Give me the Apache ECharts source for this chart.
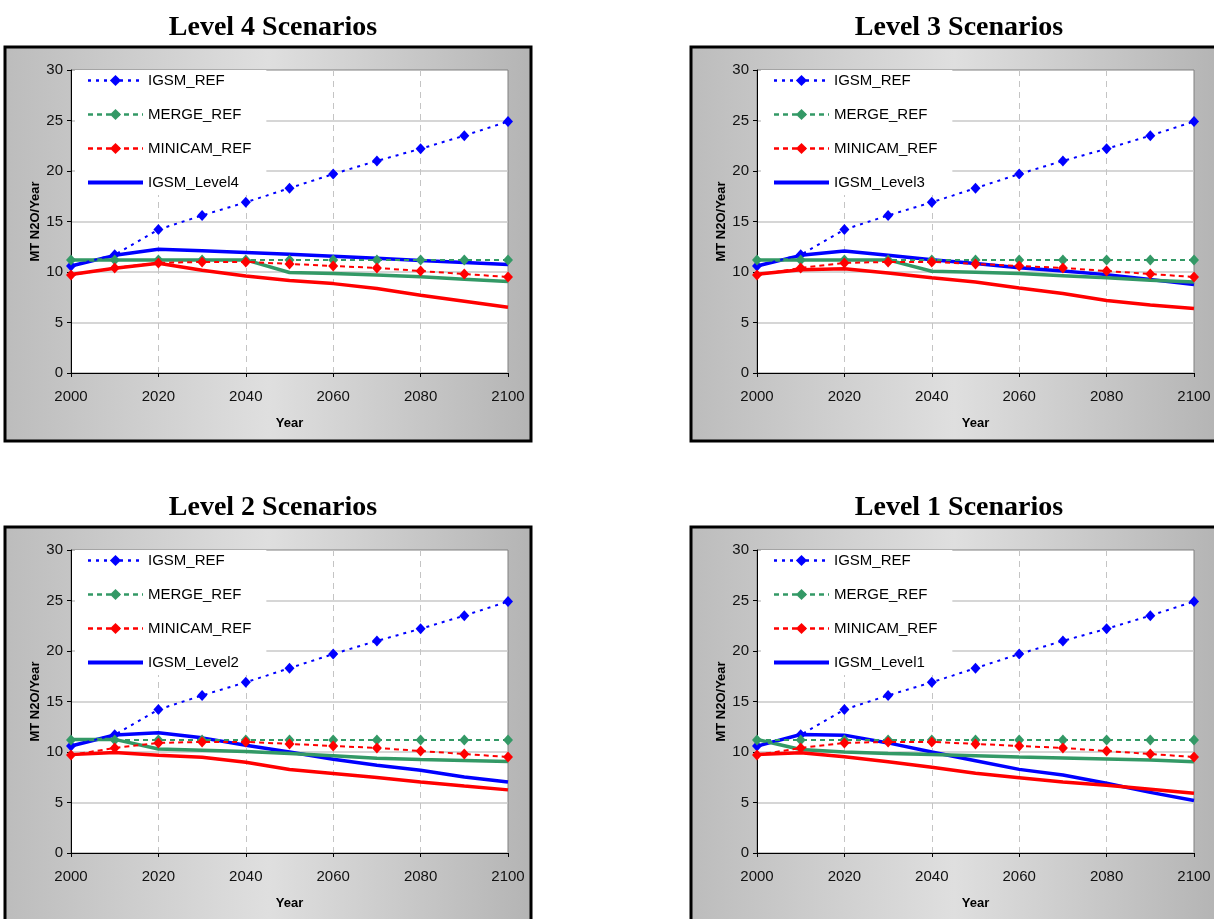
<!DOCTYPE html>
<html>
<head>
<meta charset="utf-8">
<script src="https://cdn.jsdelivr.net/npm/echarts@6/dist/echarts.min.js"></script>
<style>
html,body{margin:0;padding:0;background:#fff;}
#chart{width:1214px;height:919px;}
</style>
</head>
<body>
<div id="chart"></div>
<script>
// ---------- DATA ----------
const years = [2000, 2010, 2020, 2030, 2040, 2050, 2060, 2070, 2080, 2090, 2100];
const yTicks = [0, 5, 10, 15, 20, 25, 30];
const xTicks = [2000, 2020, 2040, 2060, 2080, 2100];

const igsmRef    = [10.6, 11.7, 14.2, 15.6, 16.9, 18.3, 19.7, 21.0, 22.2, 23.5, 24.9];
const mergeRef   = [11.2, 11.2, 11.2, 11.2, 11.2, 11.2, 11.2, 11.2, 11.2, 11.2, 11.2];
const minicamRef = [9.7, 10.4, 10.9, 11.0, 11.0, 10.8, 10.6, 10.4, 10.1, 9.8, 9.5];

const igsmL4    = [10.6, 11.65, 12.25, 12.1, 11.93, 11.75, 11.55, 11.35, 11.15, 10.95, 10.75];
const mergeL4   = [11.2, 11.2, 11.2, 11.2, 11.2, 9.95, 9.85, 9.7, 9.52, 9.28, 9.05];
const minicamL4 = [9.75, 10.38, 10.87, 10.17, 9.6, 9.15, 8.85, 8.36, 7.7, 7.1, 6.5];

const igsmL3    = [10.6, 11.65, 12.07, 11.65, 11.22, 10.83, 10.43, 10.1, 9.74, 9.25, 8.75];
const mergeL3   = [11.2, 11.2, 11.2, 11.2, 10.07, 9.97, 9.84, 9.64, 9.44, 9.18, 9.0];
const minicamL3 = [9.77, 10.23, 10.33, 9.9, 9.44, 9.0, 8.42, 7.87, 7.17, 6.74, 6.38];

const igsmL2    = [10.6, 11.68, 11.9, 11.4, 10.66, 10.0, 9.28, 8.69, 8.2, 7.53, 7.04];
const mergeL2   = [11.25, 11.25, 10.3, 10.17, 10.04, 9.84, 9.64, 9.38, 9.25, 9.15, 9.05];
const minicamL2 = [9.74, 9.94, 9.67, 9.48, 8.98, 8.26, 7.87, 7.47, 7.04, 6.64, 6.25];

const igsmL1    = [10.58, 11.73, 11.67, 10.9, 10.0, 9.14, 8.28, 7.72, 6.9, 6.0, 5.19];
const mergeL1   = [11.24, 10.25, 10.0, 9.86, 9.76, 9.63, 9.5, 9.4, 9.3, 9.2, 9.04];
const minicamL1 = [9.76, 9.92, 9.53, 9.04, 8.48, 7.89, 7.46, 7.03, 6.7, 6.31, 5.92];

const titles = ['Level 4 Scenarios', 'Level 3 Scenarios', 'Level 2 Scenarios', 'Level 1 Scenarios'];
const levelNames = ['IGSM_Level4', 'IGSM_Level3', 'IGSM_Level2', 'IGSM_Level1'];
const levelIgsm = [igsmL4, igsmL3, igsmL2, igsmL1];
const levelMerge = [mergeL4, mergeL3, mergeL2, mergeL1];
const levelMinicam = [minicamL4, minicamL3, minicamL2, minicamL1];

// ---------- LAYOUT ----------
const offsets = [[0, 0], [686, 0], [0, 480], [686, 480]];
const BLUE = '#0000ff', GREEN = '#339966', RED = '#ff0000';
const SANS = 'Liberation Sans';

const pts = arr => years.map((y, i) => [y, arr[i]]);

const option = {
  animation: false,
  backgroundColor: '#ffffff',
  title: [], grid: [], xAxis: [], yAxis: [], legend: [], series: [], graphic: []
};

offsets.forEach(([dx, dy], p) => {
  option.graphic.push({
    type: 'rect', z: -10,
    shape: {x: 5 + dx, y: 47 + dy, width: 526, height: 394},
    style: {
      fill: new echarts.graphic.LinearGradient(0, 0, 1, 0, [
        {offset: 0, color: '#bcbcbc'},
        {offset: 0.5, color: '#dfdfdf'},
        {offset: 1, color: '#b4b4b4'}
      ]),
      stroke: '#000', lineWidth: 3
    }
  });
  option.title.push({
    text: titles[p], left: 268 + dx, top: 9 + dy, textAlign: 'center',
    textStyle: {fontFamily: 'Liberation Serif', fontWeight: 'bold', fontSize: 28, color: '#000'}
  });
  option.grid.push({
    left: 71 + dx, top: 70 + dy, width: 437, height: 303,
    show: true, backgroundColor: '#fff', borderColor: '#808080', borderWidth: 1
  });
  option.xAxis.push({
    type: 'value', gridIndex: p, min: xTicks[0], max: xTicks[xTicks.length - 1], interval: 20,
    name: 'Year', nameLocation: 'middle', nameGap: 44,
    nameTextStyle: {fontFamily: SANS, fontWeight: 'bold', fontSize: 13, color: '#000'},
    axisLine: {lineStyle: {color: '#000', width: 1}},
    axisTick: {show: true, length: 4, lineStyle: {color: '#000'}},
    axisLabel: {fontFamily: SANS, fontSize: 15, color: '#111', margin: 16, formatter: v => String(v)},
    splitLine: {show: true, showMinLine: false, showMaxLine: false,
      lineStyle: {color: '#c4c4c4', type: [6, 5], width: 1}}
  });
  option.yAxis.push({
    type: 'value', gridIndex: p, min: yTicks[0], max: yTicks[yTicks.length - 1], interval: 5,
    name: 'MT N2O/Year', nameLocation: 'middle', nameGap: 26, nameRotate: 90,
    nameTextStyle: {fontFamily: SANS, fontWeight: 'bold', fontSize: 13, color: '#000'},
    axisLine: {show: true, lineStyle: {color: '#000', width: 1}},
    axisTick: {show: true, length: 4, lineStyle: {color: '#000'}},
    axisLabel: {fontFamily: SANS, fontSize: 15, color: '#111', margin: 8},
    splitLine: {show: true, showMaxLine: false, lineStyle: {color: '#c8c8c8', width: 1.5}}
  });
  option.legend.push({
    left: 75 + dx, top: 70 + dy, orient: 'vertical',
    backgroundColor: '#fff', padding: [3, 15, 5, 11],
    itemWidth: 55, itemHeight: 14, itemGap: 19,
    data: [
      {name: 'IGSM_REF', lineStyle: {width: 2.5}},
      {name: 'MERGE_REF', lineStyle: {width: 2.5}},
      {name: 'MINICAM_REF', lineStyle: {width: 2.5}},
      {name: levelNames[p], itemStyle: {opacity: 0}, lineStyle: {width: 4}}
    ],
    textStyle: {fontFamily: SANS, fontSize: 15, color: '#000', lineHeight: 14}
  });
  const solid = (name, data, color) => ({
    name, type: 'line', xAxisIndex: p, yAxisIndex: p, data: pts(data),
    showSymbol: false, symbol: 'none', z: 2,
    lineStyle: {color, width: 3.5}, itemStyle: {color}
  });
  const ref = (name, data, color, dash) => ({
    name, type: 'line', xAxisIndex: p, yAxisIndex: p, data: pts(data),
    symbol: 'diamond', symbolSize: [10, 11], z: 3,
    lineStyle: {color, width: 2, type: dash}, itemStyle: {color}
  });
  option.series.push(
    solid(levelNames[p], levelIgsm[p], BLUE),
    solid('MERGE_' + levelNames[p].split('_')[1], levelMerge[p], GREEN),
    solid('MINICAM_' + levelNames[p].split('_')[1], levelMinicam[p], RED),
    ref('IGSM_REF', igsmRef, BLUE, [3, 5]),
    ref('MERGE_REF', mergeRef, GREEN, [5, 4]),
    ref('MINICAM_REF', minicamRef, RED, [5, 4])
  );
});

const chart = echarts.init(document.getElementById('chart'), null, {renderer: 'canvas'});
chart.setOption(option);
</script>
</body>
</html>
